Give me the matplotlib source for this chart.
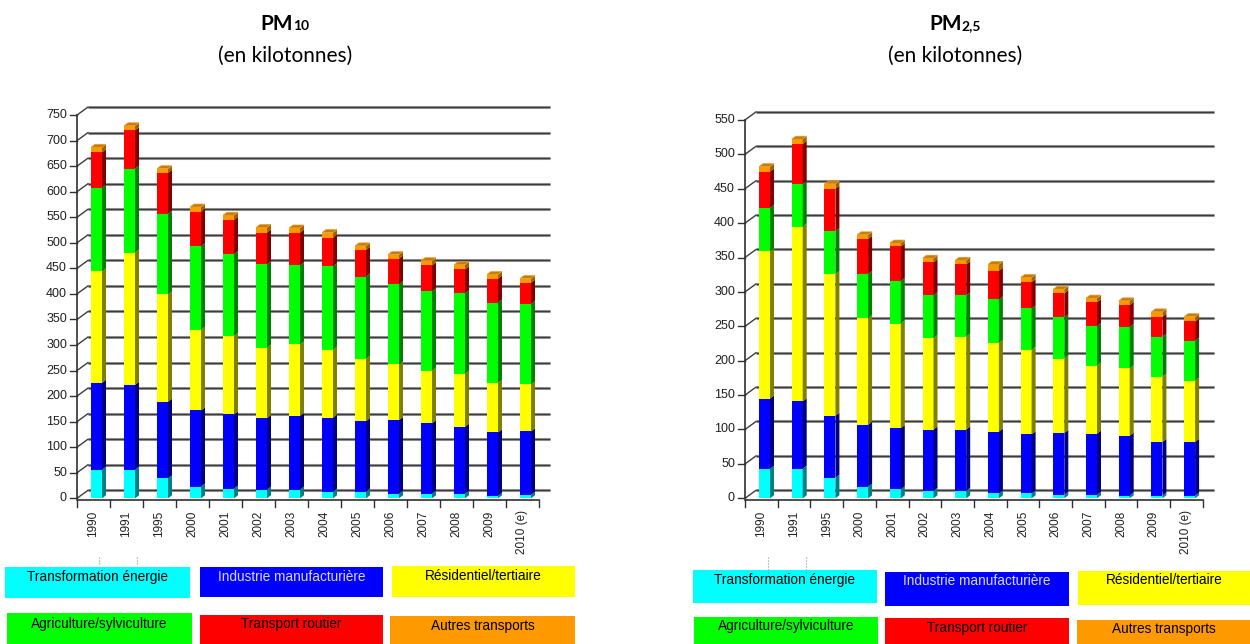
import numpy as np
import matplotlib
matplotlib.use('Agg')
import matplotlib.pyplot as plt
from matplotlib.patches import Polygon, Rectangle
from matplotlib.lines import Line2D

plt.rcParams['font.family'] = ['Liberation Sans', 'DejaVu Sans']

years = ['1990', '1991', '1995', '2000', '2001', '2002', '2003',
         '2004', '2005', '2006', '2007', '2008', '2009', '2010 (e)']

sectors = ['Transformation énergie', 'Industrie manufacturière', 'Résidentiel/tertiaire',
           'Agriculture/sylviculture', 'Transport routier', 'Autres transports']
face_colors = ['#00ffff', '#0000ff', '#ffff00', '#00ff00', '#ff0000', '#ff9900']
side_colors = ['#008080', '#000080', '#808000', '#008000', '#800000', '#9a6200']
top_color = '#cc7a00'
text_colors = ['black', '#d8d8ff', 'black', 'black', 'black', 'black']

# PM10, kilotonnes
pm10_energie = [56, 56, 39, 23, 19, 17, 17, 13, 13, 9, 9, 9, 5, 7]
pm10_industrie = [170, 166, 150, 149, 145, 140, 144, 145, 138, 144, 138, 131, 124, 124]
pm10_residentiel = [218, 259, 210, 158, 154, 138, 140, 133, 122, 109, 103, 104, 97, 92]
pm10_agriculture = [164, 164, 158, 163, 160, 163, 155, 163, 161, 157, 155, 157, 157, 157]
pm10_routier = [69, 75, 80, 68, 67, 62, 64, 56, 52, 50, 51, 47, 47, 42]
pm10_autres = [10, 9, 8, 9, 9, 10, 9, 10, 8, 8, 9, 9, 8, 8]

# PM2,5, kilotonnes
pm25_energie = [43, 43, 30, 17, 13, 11, 11, 7, 7, 5, 5, 4, 4, 4]
pm25_industrie = [102, 98, 90, 90, 89, 89, 89, 90, 86, 90, 89, 87, 78, 78]
pm25_residentiel = [214, 254, 206, 155, 152, 133, 135, 129, 123, 108, 99, 98, 95, 89]
pm25_agriculture = [63, 62, 62, 64, 62, 62, 60, 63, 60, 60, 57, 60, 58, 58]
pm25_routier = [53, 58, 62, 51, 50, 48, 45, 42, 38, 35, 35, 32, 29, 28]
pm25_autres = [7, 7, 7, 6, 5, 6, 6, 9, 7, 6, 6, 6, 7, 7]

W, H = 1250, 644
fig = plt.figure(figsize=(W / 100, H / 100), dpi=100)
fig.patch.set_facecolor('white')


def px(x, y):
    # pixel position (y from top) -> figure fraction
    return x / W, 1 - y / H


def make_axes(x0, y0, px_cat, px_val, xlim, ylim):
    left = (x0 + xlim[0] * px_cat) / W
    width = (xlim[1] - xlim[0]) * px_cat / W
    bottom = (H - y0 + ylim[0] * px_val) / H
    height = (ylim[1] - ylim[0]) * px_val / H
    ax = fig.add_axes([left, bottom, width, height])
    ax.set_xlim(*xlim)
    ax.set_ylim(*ylim)
    ax.axis('off')
    return ax


def draw_chart(ax, stacks, vmax, step, px_cat, px_val):
    n = len(years)
    wall_dx, wall_dy = 11 / px_cat, 8 / px_val
    bar_dx, bar_dy = 4 / px_cat, 3 / px_val
    bar_w = 11 / px_cat
    x_left = np.arange(n) + 14 / px_cat

    # back wall gridlines and their links to the front axis
    for v in np.arange(0, vmax + 1, step):
        ax.plot([wall_dx, n + wall_dx], [v + wall_dy] * 2, color='#a0a0a0', lw=2.2,
                solid_capstyle='butt', zorder=1)
        ax.plot([wall_dx, n + wall_dx], [v + wall_dy] * 2, color='#3c3c3c', lw=1.0,
                solid_capstyle='butt', zorder=1.1)
        ax.plot([0, wall_dx], [v, v + wall_dy], color='#3c3c3c', lw=1.0, zorder=1.1)
        ax.plot([-7 / px_cat, 0], [v, v], color='#303030', lw=1.0, zorder=1.1)
        ax.annotate(f'{v:g}', (0, v), xytext=(-10, 0), textcoords='offset pixels',
                    ha='right', va='center', fontsize=9, color='#202020')
    ax.plot([0, 0], [0, vmax], color='#303030', lw=1.2, zorder=1.1)

    # category axis
    base = -2 / px_val
    ax.plot([0, n], [base, base], color='#303030', lw=1.2, zorder=1.1)
    for i in range(n + 1):
        ax.plot([i, i], [base, base - 7 / px_val], color='#303030', lw=1.0, zorder=1.1)
    for i, lab in enumerate(years):
        ax.annotate(lab, (i + 0.5, base), xytext=(0, -10), textcoords='offset pixels',
                    rotation=90, ha='center', va='top', fontsize=8.5, color='#202020')

    # stacked 3D bars
    bottom = np.zeros(n)
    for k, vals in enumerate(stacks):
        vals = np.asarray(vals, dtype=float)
        ax.bar(x_left, vals, width=bar_w, bottom=bottom, align='edge',
               color=face_colors[k], linewidth=0, zorder=3)
        for i in range(n):
            xr = x_left[i] + bar_w
            b, t = bottom[i], bottom[i] + vals[i]
            ax.add_patch(Polygon([(xr, b), (xr + bar_dx, b + bar_dy),
                                  (xr + bar_dx, t + bar_dy), (xr, t)],
                                 closed=True, fc=side_colors[k], lw=0, zorder=3))
        bottom += vals
    for i in range(n):
        xl, t = x_left[i], bottom[i]
        ax.add_patch(Polygon([(xl, t), (xl + bar_dx, t + bar_dy),
                              (xl + bar_w + bar_dx, t + bar_dy), (xl + bar_w, t)],
                             closed=True, fc=top_color, ec='#e0a040', lw=0.5, zorder=3))


def draw_title(cx, sub):
    r = fig.canvas.get_renderer()
    t1 = fig.text(0, 0, 'PM', fontsize=15, fontweight='bold', family='Lato', va='baseline')
    t2 = fig.text(0, 0, sub, fontsize=10, fontweight='bold', family='Lato', va='baseline')
    w1 = t1.get_window_extent(r).width
    w2 = t2.get_window_extent(r).width
    x = cx - (w1 + w2) / 2
    t1.set_position(px(x, 30))
    t2.set_position(px(x + w1, 30))
    fig.text(*px(cx, 62), '(en kilotonnes)', fontsize=15, family='Lato',
             ha='center', va='baseline')


def draw_legend(boxes):
    for k, (x0, y0, x1, y1, ty) in enumerate(boxes):
        fx, fy = px(x0, y1)
        fig.patches.append(Rectangle((fx, fy), (x1 - x0) / W, (y1 - y0) / H,
                                     transform=fig.transFigure, fc=face_colors[k], lw=0))
        fig.text(*px((x0 + x1) / 2, ty), sectors[k], ha='center', va='center',
                 fontsize=9.8, color=text_colors[k])


def dotted_mark(x, y0, y1):
    fig.add_artist(Line2D([x / W, x / W], [1 - y0 / H, 1 - y1 / H],
                          transform=fig.transFigure, color='#909090', lw=0.8, ls=':'))


# PM10
ax1 = make_axes(77, 498.3, 33.0, 0.511, (-1.5, 15.5), (-90, 790))
draw_chart(ax1, [pm10_energie, pm10_industrie, pm10_residentiel,
                 pm10_agriculture, pm10_routier, pm10_autres], 750, 50, 33.0, 0.511)

# PM2,5
ax2 = make_axes(745, 498.3, 32.7, 0.688, (-1.5, 15.5), (-70, 580))
draw_chart(ax2, [pm25_energie, pm25_industrie, pm25_residentiel,
                 pm25_agriculture, pm25_routier, pm25_autres], 550, 50, 32.7, 0.688)

draw_title(285, '10')
draw_title(955, '2,5')

draw_legend([(5, 567, 190, 598, 577), (200, 567, 383, 597, 577), (392, 566, 575, 597, 576),
             (7, 613, 192, 644, 624), (200, 615, 383, 644, 624), (390, 616, 575, 644, 626)])
draw_legend([(693, 570, 877, 603, 580), (885, 572, 1069, 606, 581), (1078, 571, 1250, 605, 580),
             (694, 617, 878, 644, 626), (885, 618, 1069, 644, 628), (1077, 620, 1250, 644, 629)])

dotted_mark(99, 557, 566)
dotted_mark(137, 557, 566)
dotted_mark(768, 557, 575)
dotted_mark(806, 557, 575)

fig.savefig('out.png', dpi=100, facecolor='white')
